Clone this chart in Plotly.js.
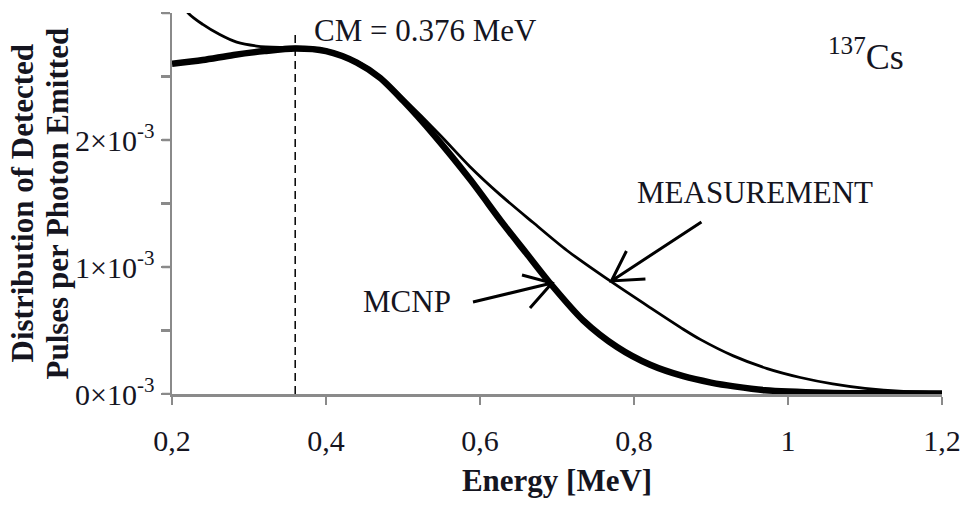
<!DOCTYPE html>
<html>
<head>
<meta charset="utf-8">
<script src="https://cdn.plot.ly/plotly-3.0.1.min.js"></script>
<style>
  html, body { margin: 0; padding: 0; background: #ffffff; }
  #chart { width: 963px; height: 505px; }
</style>
</head>
<body>
<div id="chart"></div>
<script>
// ---- Data (values in units of 10^-3) ----
const mcnpEnergy = [0.20, 0.24, 0.28, 0.32, 0.36, 0.40, 0.44, 0.47, 0.50, 0.54, 0.587, 0.63, 0.66, 0.69, 0.734, 0.778, 0.821, 0.864, 0.90, 0.93, 0.97, 1.05, 1.12, 1.20];
const mcnpValues = [2.60, 2.63, 2.67, 2.70, 2.72, 2.70, 2.61, 2.49, 2.31, 2.04, 1.69, 1.34, 1.11, 0.88, 0.58, 0.37, 0.23, 0.14, 0.09, 0.06, 0.03, 0.01, 0.005, 0.003];

const measEnergy = [0.20, 0.221, 0.24, 0.262, 0.284, 0.31, 0.34, 0.37, 0.40, 0.44, 0.47, 0.50, 0.548, 0.587, 0.626, 0.669, 0.713, 0.769, 0.821, 0.864, 0.886, 0.929, 0.973, 1.016, 1.058, 1.10, 1.15, 1.20];
const measValues = [3.20, 3.00, 2.91, 2.83, 2.77, 2.74, 2.73, 2.73, 2.71, 2.62, 2.50, 2.33, 2.04, 1.79, 1.57, 1.35, 1.13, 0.89, 0.68, 0.51, 0.43, 0.30, 0.20, 0.13, 0.08, 0.045, 0.02, 0.01];

const xTickVals = [0.2, 0.4, 0.6, 0.8, 1.0, 1.2];
const xTickLabels = ['0,2', '0,4', '0,6', '0,8', '1', '1,2'];
const yTickVals = [0, 0.5, 1, 1.5, 2, 2.5, 3];
const yTickLabels = ['0×10<sup>-3</sup>', '', '1×10<sup>-3</sup>', '', '2×10<sup>-3</sup>', '', ''];

const cmEnergy = 0.36;      // dashed marker position
const cmTop = 2.86;         // top of dashed marker
const cmLabel = 'CM = 0.376 MeV';
const measArrowTip = [0.7707, 0.89];
const mcnpArrowTip = [0.6935, 0.874];

const FONT = 'Liberation Serif, Times New Roman, serif';
const TXT = '#15151f';
const AXC = '#8a8a8a';

const traces = [
  { x: mcnpEnergy, y: mcnpValues, type: 'scatter', mode: 'lines', name: 'MCNP',
    line: { color: '#000', width: 6.5, shape: 'spline', smoothing: 0.8 }, hoverinfo: 'skip' },
  { x: measEnergy, y: measValues, type: 'scatter', mode: 'lines', name: 'MEASUREMENT',
    line: { color: '#000', width: 2.8, shape: 'spline', smoothing: 0.8 }, hoverinfo: 'skip' }
];

// open arrows drawn as pixel-sized paths anchored at the arrow tip (y offsets: up is positive)
function arrowShape(tip, path) {
  return {
    type: 'path', xref: 'x', yref: 'y', xsizemode: 'pixel', ysizemode: 'pixel',
    xanchor: tip[0], yanchor: tip[1], path: path,
    line: { color: '#000', width: 3 }, fillcolor: 'rgba(0,0,0,0)'
  };
}

// y-axis tick stubs (pixel length, anchored to the left edge of the plot at each tick value)
const yTickStubs = yTickVals.map(v => ({
  type: 'line', xref: 'paper', yref: 'y', xsizemode: 'pixel', xanchor: 0,
  x0: -10, x1: 0, y0: v, y1: v, layer: 'above',
  line: { color: AXC, width: 2.5 }
}));

const annotations = [
  { xref: 'paper', yref: 'paper', x: 0.1818, y: 0.953, xanchor: 'left', yanchor: 'middle',
    text: cmLabel, showarrow: false, font: { family: FONT, size: 31, color: TXT } },
  { xref: 'paper', yref: 'paper', x: 0.757, y: 0.5276, xanchor: 'center', yanchor: 'middle',
    text: 'MEASUREMENT', showarrow: false, font: { family: FONT, size: 31, color: TXT } },
  { xref: 'paper', yref: 'paper', x: 0.3058, y: 0.2415, xanchor: 'center', yanchor: 'middle',
    text: 'MCNP', showarrow: false, font: { family: FONT, size: 31, color: TXT } },
  { xref: 'paper', yref: 'paper', x: 0.901, y: 0.89, xanchor: 'center', yanchor: 'middle',
    text: '<sup>137</sup>Cs', showarrow: false, font: { family: FONT, size: 36, color: TXT } },
  { xref: 'paper', yref: 'paper', x: 0, y: 0.5, xanchor: 'center', yanchor: 'middle', xshift: -150,
    textangle: -90, text: '<b>Distribution of Detected</b>', showarrow: false,
    font: { family: FONT, size: 31, color: TXT } },
  { xref: 'paper', yref: 'paper', x: 0, y: 0.5, xanchor: 'center', yanchor: 'middle', xshift: -115,
    textangle: -90, text: '<b>Pulses per Photon Emitted</b>', showarrow: false,
    font: { family: FONT, size: 31, color: TXT } }
];

const layout = {
  width: 963, height: 505,
  margin: { l: 172, r: 21, t: 13, b: 111, pad: 0 },
  paper_bgcolor: '#ffffff', plot_bgcolor: '#ffffff',
  showlegend: false,
  font: { family: FONT, color: TXT },
  xaxis: {
    range: [0.2, 1.2], tickmode: 'array', tickvals: xTickVals, ticktext: xTickLabels,
    ticks: 'outside', ticklen: 8, tickwidth: 2.5, tickcolor: AXC,
    showline: true, linecolor: AXC, linewidth: 2.5, showgrid: false, zeroline: false,
    tickfont: { family: FONT, size: 30, color: TXT }, ticklabelstandoff: 10,
    title: { text: '<b>Energy [MeV]</b>', font: { family: FONT, size: 31, color: TXT }, standoff: 14 }
  },
  yaxis: {
    range: [0, 3], tickmode: 'array', tickvals: yTickVals, ticktext: yTickLabels,
    ticks: 'outside', ticklen: 9, tickwidth: 2.5, tickcolor: AXC,
    showline: true, linecolor: AXC, linewidth: 2.5, showgrid: false, zeroline: false,
    tickfont: { family: FONT, size: 30, color: TXT }
  },
  shapes: [
    { type: 'line', xref: 'x', yref: 'y', x0: cmEnergy, x1: cmEnergy, y0: 0, y1: cmTop,
      line: { color: '#000', width: 1.5, dash: '8px,5px' } },
    arrowShape(measArrowTip, 'M90,59L0,0M15,30L0,0L34,2'),
    arrowShape(mcnpArrowTip, 'M-79,-19L0,0M-30,8L0,0L-22,-25')
  ].concat(yTickStubs),
  annotations: annotations
};

Plotly.newPlot('chart', traces, layout, { displayModeBar: false, staticPlot: true });
</script>
</body>
</html>
